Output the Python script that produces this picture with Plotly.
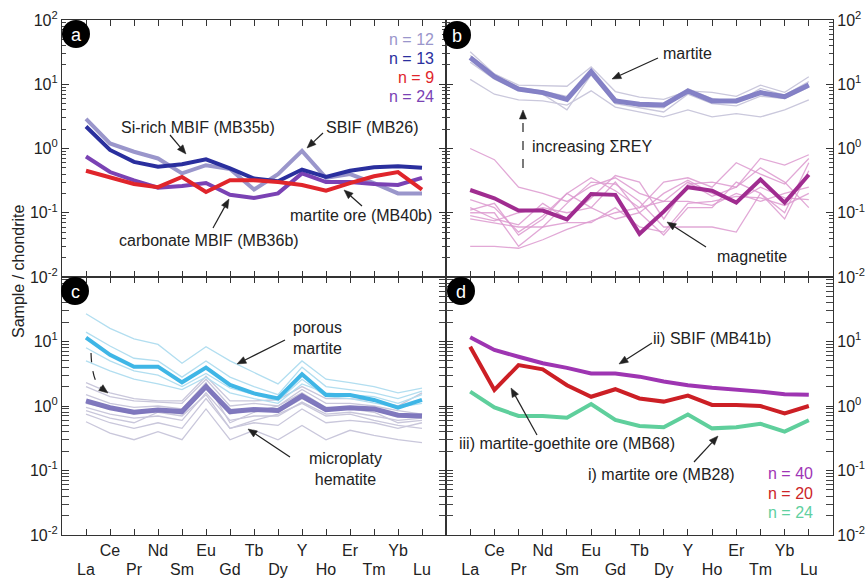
import math
import plotly.graph_objects as go
from plotly.subplots import make_subplots

# Rare earth elements + Y, in plotting order
elements = ["La", "Ce", "Pr", "Nd", "Sm", "Eu", "Gd", "Tb", "Dy", "Y", "Ho", "Er", "Tm", "Yb", "Lu"]
x_idx = list(range(len(elements)))

# (a) whole-rock averages
a_sbif_mb26 = [2.9, 1.2, 0.89, 0.70, 0.41, 0.55, 0.48, 0.23, 0.40, 0.92, 0.35, 0.40, 0.29, 0.20, 0.20]
a_sirich_mb35b = [2.2, 0.95, 0.62, 0.52, 0.57, 0.68, 0.49, 0.34, 0.31, 0.47, 0.36, 0.45, 0.51, 0.53, 0.50]
a_martite_ore_mb40b = [0.45, 0.36, 0.28, 0.25, 0.36, 0.21, 0.32, 0.32, 0.30, 0.27, 0.22, 0.29, 0.37, 0.43, 0.23]
a_carbonate_mb36b = [0.75, 0.43, 0.32, 0.245, 0.26, 0.29, 0.19, 0.17, 0.20, 0.41, 0.30, 0.30, 0.28, 0.27, 0.35]
a_counts = ["n = 12", "n = 13", "n = 9", "n = 24"]

# (b) martite and magnetite spot analyses
b_martite_mean = [26, 13.1, 8.4, 7.4, 5.8, 15.7, 5.5, 4.9, 4.75, 7.85, 5.5, 5.5, 7.4, 6.4, 9.7]
b_martite_1 = [32, 14.5, 9.7, 9.5, 9.3, 18.7, 7.7, 6.3, 5.8, 7.9, 7.5, 6.5, 9.7, 7.5, 13.1]
b_martite_2 = [11.9, 7.0, 5.7, 5.5, 4.75, 7.9, 4.4, 3.7, 3.1, 4.0, 3.1, 3.5, 3.1, 4.0, 5.7]
b_martite_3 = [22, 12, 8.0, 7.0, 4.0, 14, 5.0, 4.3, 3.7, 7.0, 5.0, 4.6, 6.5, 6.0, 9.0]
b_martite_4 = [28, 14, 9.0, 7.8, 6.5, 16, 6.0, 4.5, 4.3, 8.5, 6.0, 5.2, 8.6, 6.8, 11]
b_magnetite_mean = [0.226, 0.168, 0.108, 0.108, 0.079, 0.196, 0.19, 0.047, 0.104, 0.25, 0.22, 0.144, 0.33, 0.144, 0.39]
b_magnetite_1 = [1.0, 0.67, 0.25, 0.20, 0.15, 0.26, 0.35, 0.20, 0.15, 0.30, 0.18, 0.25, 0.50, 0.30, 0.12]
b_magnetite_2 = [0.16, 0.12, 0.05, 0.09, 0.20, 0.35, 0.22, 0.12, 0.30, 0.35, 0.25, 0.60, 0.40, 0.28, 0.70]
b_magnetite_3 = [0.12, 0.08, 0.065, 0.14, 0.08, 0.17, 0.38, 0.30, 0.08, 0.28, 0.30, 0.25, 0.70, 0.55, 0.80]
b_magnetite_4 = [0.10, 0.10, 0.03, 0.06, 0.14, 0.30, 0.28, 0.15, 0.06, 0.06, 0.06, 0.05, 0.20, 0.10, 0.60]
b_magnetite_5 = [0.09, 0.075, 0.10, 0.12, 0.10, 0.12, 0.08, 0.10, 0.20, 0.32, 0.20, 0.15, 0.25, 0.17, 0.16]
b_magnetite_6 = [0.08, 0.07, 0.06, 0.06, 0.07, 0.07, 0.12, 0.06, 0.05, 0.14, 0.15, 0.18, 0.17, 0.13, 0.20]
b_magnetite_7 = [0.03, 0.03, 0.028, 0.038, 0.055, 0.075, 0.10, 0.12, 0.15, 0.15, 0.13, 0.20, 0.15, 0.20, 0.25]
b_magnetite_8 = [0.11, 0.14, 0.045, 0.08, 0.20, 0.12, 0.30, 0.10, 0.045, 0.12, 0.12, 0.30, 0.20, 0.08, 0.45]

# (c) porous martite and microplaty hematite spot analyses
c_porous_mean = [11.5, 6.2, 4.07, 4.07, 2.33, 3.93, 2.12, 1.57, 1.31, 3.1, 1.48, 1.48, 1.24, 0.94, 1.24]
c_porous_1 = [27, 16, 11, 9.0, 4.6, 8.3, 5.0, 3.3, 2.2, 5.0, 2.6, 2.3, 2.0, 1.6, 1.9]
c_porous_2 = [14, 8.5, 5.5, 5.0, 2.8, 5.0, 2.8, 2.0, 1.5, 4.0, 2.0, 1.8, 1.6, 1.3, 1.7]
c_porous_3 = [8.0, 5.0, 3.5, 3.0, 2.0, 3.2, 1.9, 1.5, 1.2, 2.6, 1.4, 1.3, 1.1, 0.95, 1.1]
c_porous_4 = [5.0, 3.5, 2.6, 2.2, 1.8, 2.8, 1.6, 1.3, 1.1, 2.2, 1.6, 1.5, 1.4, 1.1, 1.5]
c_microplaty_mean = [1.2, 0.94, 0.80, 0.87, 0.82, 2.0, 0.82, 0.88, 0.85, 1.43, 0.88, 0.94, 0.90, 0.72, 0.70]
c_microplaty_1 = [0.57, 0.38, 0.30, 0.40, 0.30, 0.90, 0.30, 0.42, 0.30, 0.50, 0.30, 0.42, 0.35, 0.30, 0.27]
c_microplaty_2 = [0.75, 0.55, 0.45, 0.55, 0.45, 1.3, 0.45, 0.55, 0.50, 0.90, 0.55, 0.60, 0.55, 0.45, 0.55]
c_microplaty_3 = [0.95, 0.75, 0.65, 0.70, 0.60, 1.6, 0.60, 0.70, 0.70, 1.15, 0.75, 0.80, 0.70, 0.60, 0.65]
c_microplaty_4 = [1.5, 1.1, 0.95, 1.0, 0.90, 2.3, 0.55, 0.80, 1.0, 1.6, 0.95, 0.90, 0.80, 0.55, 0.60]
c_microplaty_5 = [2.0, 1.4, 1.2, 1.15, 1.1, 2.6, 1.0, 1.1, 1.0, 1.8, 1.1, 1.1, 1.0, 0.85, 0.75]
c_microplaty_6 = [2.3, 1.6, 1.3, 1.2, 1.2, 2.9, 1.2, 1.2, 1.25, 2.0, 1.3, 1.3, 1.2, 1.0, 1.6]
c_microplaty_7 = [1.1, 0.90, 0.75, 0.85, 0.75, 1.9, 0.75, 0.90, 0.80, 1.3, 0.85, 0.95, 0.85, 0.70, 0.75]
c_microplaty_8 = [0.85, 0.65, 0.55, 0.80, 0.70, 1.5, 0.45, 0.60, 0.75, 1.1, 0.70, 0.75, 0.60, 0.50, 0.45]

# (d) averages per ore stage
d_sbif_mb41b = [11.6, 7.4, 5.8, 4.6, 3.9, 3.2, 3.2, 2.85, 2.4, 2.1, 1.92, 1.82, 1.67, 1.52, 1.49]
d_martite_goethite_mb68 = [8.3, 1.77, 4.3, 3.7, 2.1, 1.39, 1.82, 1.31, 1.17, 1.45, 1.04, 1.04, 1.0, 0.77, 1.0]
d_martite_ore_mb28 = [1.67, 0.95, 0.70, 0.70, 0.66, 1.07, 0.61, 0.49, 0.47, 0.74, 0.45, 0.47, 0.53, 0.40, 0.60]
d_counts = ["n = 40", "n = 20", "n = 24"]

FONT = "Liberation Sans, Arial, Helvetica, sans-serif"
INK = "#222222"
AXIS = "#333333"

# plotting frame in page pixels
L, R, T, B = 62, 833, 20, 535
W, H = R - L, B - T
XMID, YMID = 446, 277


def px(x):
    return (x - L) / W


def py(y):
    return (B - y) / H


fig = make_subplots(rows=2, cols=2, horizontal_spacing=0, vertical_spacing=0)


def line(row, col, y, color, width, opacity=1.0):
    fig.add_trace(go.Scatter(x=x_idx, y=y, mode="lines",
                             line=dict(color=color, width=width),
                             opacity=opacity, hoverinfo="skip", showlegend=False),
                  row=row, col=col)


# (a)
line(1, 1, a_sbif_mb26, "#9a96cb", 4)
line(1, 1, a_carbonate_mb36b, "#7a42b4", 4)
line(1, 1, a_sirich_mb35b, "#2a2f9e", 4)
line(1, 1, a_martite_ore_mb40b, "#e0252b", 4)

# (b)
for s in [b_martite_1, b_martite_2, b_martite_3, b_martite_4]:
    line(1, 2, s, "#cac8dc", 1.3)
line(1, 2, b_martite_mean, "#7f7cc4", 5, 0.95)
for s in [b_magnetite_1, b_magnetite_2, b_magnetite_3, b_magnetite_4,
          b_magnetite_5, b_magnetite_6, b_magnetite_7, b_magnetite_8]:
    line(1, 2, s, "#dd9ad0", 1.3, 0.85)
line(1, 2, b_magnetite_mean, "#a02c90", 4)

# (c)
for s in [c_microplaty_1, c_microplaty_2, c_microplaty_3, c_microplaty_4,
          c_microplaty_5, c_microplaty_6, c_microplaty_7, c_microplaty_8]:
    line(2, 1, s, "#c9c7db", 1.3)
for s in [c_porous_1, c_porous_2, c_porous_3, c_porous_4]:
    line(2, 1, s, "#b2def0", 1.3)
line(2, 1, c_microplaty_mean, "#7a72bb", 5, 0.95)
line(2, 1, c_porous_mean, "#3fb6e6", 4)

# (d)
line(2, 2, d_martite_ore_mb28, "#5fcf9c", 4)
line(2, 2, d_martite_goethite_mb68, "#cc1f25", 4)
line(2, 2, d_sbif_mb41b, "#9e35b2", 4)

# axes
dom_x = [[0, px(XMID)], [px(XMID), 1]]
dom_y = [[py(YMID), 1], [0, py(YMID)]]
ticklab = [f"10<sup>{e}</sup>" for e in [-2, -1, 0, 1, 2]]
tickvals = [0.01, 0.1, 1, 10, 100]
odd_idx = [i for i in x_idx if i % 2 == 1]
even_idx = [i for i in x_idx if i % 2 == 0]
TICKFONT = dict(family=FONT, size=16, color=INK)

for r in (1, 2):
    for c in (1, 2):
        n = (r - 1) * 2 + c
        xa = "xaxis" if n == 1 else f"xaxis{n}"
        ya = "yaxis" if n == 1 else f"yaxis{n}"
        fig.layout[xa].update(
            domain=dom_x[c - 1], range=[-1, 15], showgrid=False, zeroline=False,
            showline=True, linecolor=AXIS, linewidth=1.2, mirror="allticks",
            ticks="inside", ticklen=6, tickcolor=AXIS, tickwidth=1,
            tickmode="array", tickvals=x_idx, showticklabels=False,
            automargin=False)
        if r == 2:
            vals, text = tickvals[:4], ticklab[:4]
        else:
            vals, text = tickvals, ticklab
        fig.layout[ya].update(
            domain=dom_y[r - 1], type="log", range=[-2, 2], showgrid=False,
            zeroline=False, showline=True, linecolor=AXIS, linewidth=1.2,
            mirror="allticks", ticks="inside", ticklen=7, tickcolor=AXIS,
            tickwidth=1, tickmode="array", tickvals=vals, ticktext=text,
            side="left" if c == 1 else "right", tickfont=TICKFONT,
            automargin=False,
            minor=dict(ticks="inside", ticklen=4, tickcolor="#444444",
                       dtick="D1", showgrid=False))

# staggered element labels below c and d: Ce, Nd, ... on one row, La, Pr, ... below
label_axes = [("x3", "y3", "x5", odd_idx, 4), ("x3", "y3", "x7", even_idx, 23),
              ("x4", "y4", "x6", odd_idx, 4), ("x4", "y4", "x8", even_idx, 23)]
for base_x, base_y, new_x, idx, standoff in label_axes:
    fig.add_trace(go.Scatter(x=[None], y=[None], xaxis=new_x, yaxis=base_y,
                             showlegend=False, hoverinfo="skip"))
    fig.layout["xaxis" + new_x[1:]] = dict(
        overlaying=base_x, anchor=base_y, side="bottom", range=[-1, 15],
        showgrid=False, zeroline=False, showline=False, ticks="",
        tickmode="array", tickvals=idx, ticktext=[elements[i] for i in idx],
        ticklabelstandoff=standoff, tickfont=TICKFONT, automargin=False)

fig.update_layout(
    width=866, height=583,
    margin=dict(l=L, r=866 - R, t=T, b=583 - B, autoexpand=False),
    paper_bgcolor="white", plot_bgcolor="white",
    font=dict(family=FONT, color=INK),
    showlegend=False,
)

ann = []
shapes = []


def text(x, y, s, size=16, color=INK, anchor="center"):
    ann.append(dict(x=px(x), y=py(y), xref="paper", yref="paper", text=s,
                    showarrow=False, xanchor=anchor, yanchor="middle",
                    font=dict(family=FONT, size=size, color=color)))


def arrow(tail, head, dash="solid", head_len=9.0, head_half=3.6):
    """Pointer line from tail to head with a filled triangular tip (page pixels)."""
    dx, dy = head[0] - tail[0], head[1] - tail[1]
    d = math.hypot(dx, dy)
    ux, uy = dx / d, dy / d
    bx, by = head[0] - ux * head_len, head[1] - uy * head_len
    if d > head_len:
        shapes.append(dict(type="line", xref="paper", yref="paper",
                           x0=px(tail[0]), y0=py(tail[1]), x1=px(bx), y1=py(by),
                           line=dict(color=INK, width=1.2, dash=dash)))
    lx, ly = bx - uy * head_half, by + ux * head_half
    rx, ry = bx + uy * head_half, by - ux * head_half
    shapes.append(dict(type="path", xref="paper", yref="paper",
                       path=f"M {px(head[0])},{py(head[1])} L {px(lx)},{py(ly)} "
                            f"L {px(rx)},{py(ry)} Z",
                       fillcolor=INK, line=dict(color=INK, width=0.5)))


# panel letters
for letter, cx, cy in [("a", 76, 34), ("b", 457, 35), ("c", 75, 291), ("d", 461, 291)]:
    shapes.append(dict(type="circle", xref="paper", yref="paper",
                       x0=px(cx - 14), x1=px(cx + 14), y0=py(cy + 14), y1=py(cy - 14),
                       fillcolor="black", line=dict(color="black", width=0), layer="above"))
    text(cx, cy + 1, letter, size=18, color="white")

# (a) labels
text(198, 128, "Si-rich MBIF (MB35b)")
arrow((170, 135), (186, 154))
text(372, 128, "SBIF (MB26)")
arrow((323, 133), (307, 148))
text(361, 215, "martite ore (MB40b)")
arrow((362, 206), (344, 190))
text(209, 240, "carbonate MBIF (MB36b)")
arrow((213, 228), (229, 199))
for s, y, col in zip(a_counts, [40, 58, 77, 96], ["#9a96cb", "#2a2f9e", "#e0252b", "#7a42b4"]):
    text(436, y, s, size=16, color=col, anchor="right")

# (b) labels
text(687, 53, "martite")
arrow((658, 58), (612, 79))
text(592, 147, "increasing ΣREY")
arrow((523, 168), (523, 110), dash="dash")
text(752, 256, "magnetite")
arrow((706, 247), (667, 222))

# (c) labels
text(317, 338, "porous<br>martite")
arrow((285, 340), (237, 364))
text(345, 469, "microplaty<br>hematite")
arrow((290, 457), (248, 429))
shapes.append(dict(type="path", xref="paper", yref="paper",
                   path=f"M {px(91)},{py(353)} Q {px(92)},{py(380)} {px(100)},{py(387)}",
                   line=dict(color=INK, width=1.2, dash="dash")))
arrow((100, 387), (108, 393))

# (d) labels
text(712, 338, "ii) SBIF (MB41b)")
arrow((652, 343), (619, 364))
text(567, 443, "iii) martite-goethite ore (MB68)")
arrow((537, 435), (511, 388))
text(661, 474, "i) martite ore (MB28)")
arrow((694, 462), (718, 436))
for s, y, col in zip(d_counts, [473, 493, 512], ["#a035b5", "#cc2428", "#60d0a0"]):
    text(815, y, s, size=16, color=col, anchor="right")

# shared y-axis title
ann.append(dict(x=px(18), y=py(271), xref="paper", yref="paper",
                text="Sample / chondrite", showarrow=False, textangle=-90,
                xanchor="center", yanchor="middle",
                font=dict(family=FONT, size=16, color=INK)))

fig.update_layout(annotations=ann, shapes=shapes)
fig.write_html("out.html")
